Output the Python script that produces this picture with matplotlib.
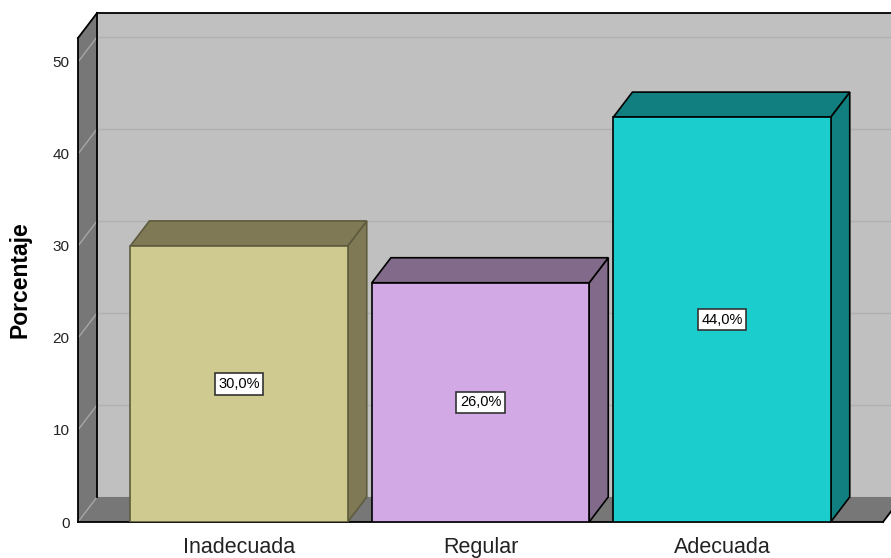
import matplotlib.pyplot as plt
from matplotlib.patches import Polygon, Rectangle

plt.rcParams['font.family'] = ['Liberation Sans', 'DejaVu Sans']

categorias = ['Inadecuada', 'Regular', 'Adecuada']
porcentajes = [30.0, 26.0, 44.0]
ticks_y = [0, 10, 20, 30, 40, 50]

color_frente = ['#cfca8f', '#d2a9e4', '#1ccdcd']
color_lado = ['#7f7a55', '#826a8a', '#117f7f']
color_borde = ['#5e5b3e', '#000000', '#000000']

# extension of the 3D box (data units)
x0, x1 = -2 / 3, 8 / 3
ytop = 52.6
dx, dy = 0.079, 2.72
ancho = 0.9

fig = plt.figure(figsize=(8.91, 5.58), dpi=100)
ax = fig.add_axes([78 / 891, 36 / 558, (883 - 78) / 891, (522 - 38) / 558])
ax.set_xlim(x0, x1)
ax.set_ylim(0, ytop)
ax.patch.set_visible(False)
for s in ax.spines.values():
    s.set_visible(False)

# back wall
ax.add_patch(Rectangle((x0 + dx, dy), x1 - x0 + 0.2, ytop, facecolor='#c0c0c0',
                       edgecolor='none', zorder=0, clip_on=False))
for v in ticks_y[1:]:
    ax.plot([x0 + dx, x1 + dx + 0.2], [v + dy, v + dy], color='#b0b0b0', lw=1,
            zorder=0.5, clip_on=False)
ax.plot([x0 + dx, x1 + dx + 0.2], [ytop + dy, ytop + dy], color='black', lw=1.3,
        zorder=0.6, clip_on=False)

# left wall
ax.add_patch(Polygon([(x0, 0), (x0 + dx, dy), (x0 + dx, ytop + dy), (x0, ytop)],
                     facecolor='#777777', edgecolor='none', zorder=1, clip_on=False))
for v in ticks_y[1:]:
    ax.plot([x0, x0 + dx], [v, v + dy], color='#a6a6a6', lw=1, zorder=1.1, clip_on=False)

# floor
ax.add_patch(Polygon([(x0, 0), (x1, 0), (x1 + dx, dy), (x0 + dx, dy)],
                     facecolor='#777777', edgecolor='none', zorder=1, clip_on=False))
ax.plot([x0, x0 + dx], [0, dy], color='#a6a6a6', lw=1, zorder=1.1, clip_on=False)

# box edges
ax.plot([x0, x0], [0, ytop], color='black', lw=1.3, zorder=1.2, clip_on=False)
ax.plot([x0, x0 + dx], [ytop, ytop + dy], color='black', lw=1.3, zorder=1.2, clip_on=False)
ax.plot([x0 + dx, x0 + dx], [dy, ytop + dy], color='black', lw=1.3, zorder=1.2, clip_on=False)
ax.plot([x0, x1], [0, 0], color='black', lw=1.3, zorder=1.2, clip_on=False)
ax.plot([x1, x1 + dx], [0, dy], color='black', lw=1.3, zorder=1.2, clip_on=False)

# bars
for i, (cat, val) in enumerate(zip(categorias, porcentajes)):
    xl = i - ancho / 2
    xr = i + ancho / 2
    kw = dict(edgecolor=color_borde[i], lw=1.2, zorder=3, joinstyle='miter')
    ax.add_patch(Polygon([(xr, 0), (xr + dx, dy), (xr + dx, val + dy), (xr, val)],
                         facecolor=color_lado[i], **kw))
    ax.add_patch(Polygon([(xl, val), (xr, val), (xr + dx, val + dy), (xl + dx, val + dy)],
                         facecolor=color_lado[i], **kw))
    ax.add_patch(Rectangle((xl, 0), ancho, val, facecolor=color_frente[i], **kw))
    ax.text(i, val / 2, ('%.1f%%' % val).replace('.', ','), ha='center', va='center',
            fontsize=10.5, zorder=4,
            bbox=dict(boxstyle='square,pad=0.25', facecolor='white', edgecolor='#333333', lw=1.2))

ax.set_xticks(range(len(categorias)))
ax.set_xticklabels(categorias, fontsize=15.5, color='#222222')
ax.set_yticks(ticks_y)
ax.set_yticklabels([str(t) for t in ticks_y], fontsize=11, color='#222222')
ax.tick_params(axis='both', length=0)
ax.tick_params(axis='x', pad=11)
ax.tick_params(axis='y', pad=6)
ax.set_ylabel('Porcentaje', fontsize=16.5, fontweight='bold')
ax.yaxis.set_label_coords(-0.058, 0.5)

fig.savefig('out.png', dpi=100)
